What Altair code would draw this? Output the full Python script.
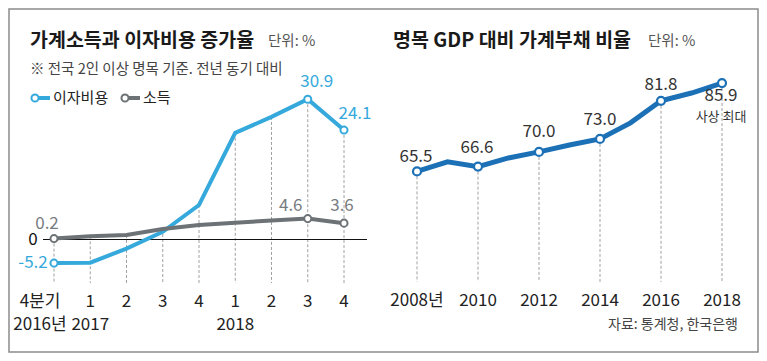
import altair as alt
import pandas as pd

# ---------------- data ----------------
quarters = ["4분기", "1", "2", "3", "4", "1", "2", "3", "4"]
year_row = ["2016년", "2017", "", "", "", "2018", "", "", ""]
interest = [-5.2, -5.1, -2.0, 1.7, 7.6, 23.5, 27.0, 30.9, 24.1]
income = [0.2, 0.7, 1.0, 2.3, 3.2, 3.7, 4.2, 4.6, 3.6]
marked_q = [True, False, False, False, False, False, False, True, True]

years = list(range(2008, 2019))
debt_ratio = [65.5, 67.7, 66.6, 68.6, 70.0, 71.6, 73.0, 76.7, 81.8, 83.6, 85.9]
year_ticks = ["2008년", "2010", "2012", "2014", "2016", "2018"]

FONT = "Noto Sans CJK KR"
BLUE_L = "#36a9dc"
GRAY_L = "#6c7275"
BLUE_R = "#1c70b6"
DASH = "#a0a0a0"

left = pd.DataFrame({
    "i": list(range(len(quarters))),
    "q": quarters,
    "yr": year_row,
    "interest": interest,
    "income": income,
    "marked": marked_q,
})
right = pd.DataFrame({
    "year": years,
    "v": debt_ratio,
    "even": [y % 2 == 0 for y in years],
})
ticks = pd.DataFrame({"year": [int(t[:4]) for t in year_ticks], "t": year_ticks})
dummy = pd.DataFrame({"a": [0]})

LX = alt.Scale(domain=[0, 8], range=[46, 336], nice=False, zero=False)
LY = alt.Scale(domain=[-10, 35], range=[276.9, 72.6], nice=False, zero=False)
RX = alt.Scale(domain=[2008, 2018], range=[409, 714], nice=False, zero=False)
RY = alt.Scale(domain=[40, 90], range=[273.8, 57.3], nice=False, zero=False)

lx = alt.X("i:Q", scale=LX, axis=None)
rx = alt.X("year:Q", scale=RX, axis=None)

layers = []

# border
layers.append(alt.Chart(dummy).mark_rect(fill=None, stroke="#8c8c8c", strokeWidth=1.5).encode(
    x=alt.value(1), x2=alt.value(750), y=alt.value(1), y2=alt.value(344)))

# ---------- left panel ----------
base_l = alt.Chart(left)
layers.append(base_l.transform_calculate(top="max(datum.interest, datum.income)", bot="-9.6").mark_rule(
    color=DASH, strokeDash=[3, 2], strokeWidth=1).encode(
    x=lx, y=alt.Y("top:Q", scale=LY, axis=None), y2="bot:Q"))
layers.append(alt.Chart(dummy).mark_rule(color="#111", strokeWidth=1.2).encode(
    x=alt.value(35), x2=alt.value(359), y=alt.Y("a:Q", scale=LY, axis=None)))
layers.append(base_l.mark_line(color=BLUE_L, strokeWidth=4).encode(
    x=lx, y=alt.Y("interest:Q", scale=LY, axis=None)))
layers.append(base_l.mark_line(color=GRAY_L, strokeWidth=4).encode(
    x=lx, y=alt.Y("income:Q", scale=LY, axis=None)))
layers.append(base_l.transform_filter("datum.marked").mark_point(
    filled=True, fill="white", stroke=BLUE_L, strokeWidth=2, size=50, opacity=1).encode(
    x=lx, y=alt.Y("interest:Q", scale=LY, axis=None)))
layers.append(base_l.transform_filter("datum.marked").mark_point(
    filled=True, fill="white", stroke=GRAY_L, strokeWidth=2, size=50, opacity=1).encode(
    x=lx, y=alt.Y("income:Q", scale=LY, axis=None)))

def lab_left(idx, series, dx, dy, color):
    vals = interest if series == "interest" else income
    d = pd.DataFrame({"i": [idx], "v": [vals[idx]], "t": [f"{vals[idx]:.1f}"]})
    return alt.Chart(d).mark_text(font=FONT, fontSize=17, color=color, dx=dx, dy=dy,
                                  align="center", baseline="middle").encode(
        x=lx, y=alt.Y("v:Q", scale=LY, axis=None), text="t:N")

layers += [
    lab_left(0, "interest", -21, 0, BLUE_L),
    lab_left(7, "interest", 9, -17, BLUE_L),
    lab_left(8, "interest", 11, -16, BLUE_L),
    lab_left(0, "income", -7, -15, "#777c80"),
    lab_left(7, "income", -17, -13, "#777c80"),
    lab_left(8, "income", -2, -17, "#777c80"),
]
# zero label
layers.append(alt.Chart(dummy).mark_text(font=FONT, fontSize=17, color="#111", align="center",
                                          baseline="middle").encode(
    x=alt.value(25), y=alt.Y("a:Q", scale=LY, axis=None), text=alt.value("0")))

# quarter labels
layers.append(base_l.transform_filter("datum.i > 0").mark_text(
    font=FONT, fontSize=17, color="#222", baseline="middle").encode(
    x=lx, y=alt.value(293.5), text="q:N"))
layers.append(base_l.transform_filter("datum.i == 0").mark_text(
    font=FONT, fontSize=17, color="#222", baseline="middle", dx=-14).encode(
    x=lx, y=alt.value(293.5), text="q:N"))
layers.append(base_l.transform_filter("datum.i == 0").mark_text(
    font=FONT, fontSize=17, color="#222", baseline="middle", dx=-14).encode(
    x=lx, y=alt.value(316.5), text="yr:N"))
layers.append(base_l.transform_filter("datum.i > 0 && datum.yr != ''").mark_text(
    font=FONT, fontSize=17, color="#222", baseline="middle").encode(
    x=lx, y=alt.value(316.5), text="yr:N"))

# titles left
def txt(s, x, y, size, color="#222", weight="normal", align="left"):
    return alt.Chart(dummy).mark_text(font=FONT, fontSize=size, color=color, fontWeight=weight,
                                      align=align, baseline="middle").encode(
        x=alt.value(x), y=alt.value(y), text=alt.value(s))

layers += [
    txt("가계소득과 이자비용 증가율", 22, 33, 19.5, "#1a1a1a", "bold"),
    txt("단위: %", 260, 34, 14.5, "#555"),
    txt("※ 전국 2인 이상 명목 기준. 전년 동기 대비", 22, 62, 14.5, "#444"),
]
# legend
layers.append(alt.Chart(dummy).mark_rule(color=BLUE_L, strokeWidth=4).encode(
    x=alt.value(27), x2=alt.value(42), y=alt.value(90)))
layers.append(alt.Chart(dummy).mark_point(filled=True, fill="white", stroke=BLUE_L, strokeWidth=2,
                                          size=50, opacity=1).encode(x=alt.value(27), y=alt.value(90)))
layers.append(txt("이자비용", 45, 90, 15, "#222"))
layers.append(alt.Chart(dummy).mark_rule(color=GRAY_L, strokeWidth=4).encode(
    x=alt.value(117), x2=alt.value(132), y=alt.value(90)))
layers.append(alt.Chart(dummy).mark_point(filled=True, fill="white", stroke=GRAY_L, strokeWidth=2,
                                          size=50, opacity=1).encode(x=alt.value(117), y=alt.value(90)))
layers.append(txt("소득", 135, 90, 15, "#222"))

# ---------- right panel ----------
base_r = alt.Chart(right)
layers.append(base_r.transform_filter("datum.even").transform_calculate(bot="40").mark_rule(
    color=DASH, strokeDash=[3, 2], strokeWidth=1).encode(
    x=rx, y=alt.Y("v:Q", scale=RY, axis=None), y2="bot:Q"))
layers.append(base_r.mark_line(color=BLUE_R, strokeWidth=5).encode(
    x=rx, y=alt.Y("v:Q", scale=RY, axis=None)))
layers.append(base_r.transform_filter("datum.even").mark_point(
    filled=True, fill="white", stroke=BLUE_R, strokeWidth=2.2, size=64, opacity=1).encode(
    x=rx, y=alt.Y("v:Q", scale=RY, axis=None)))

def lab_right(year, dx, dy, text=None):
    k = years.index(year)
    d = pd.DataFrame({"year": [year], "v": [debt_ratio[k]],
                      "t": [text if text is not None else f"{debt_ratio[k]:.1f}"]})
    return alt.Chart(d).mark_text(font=FONT, fontSize=17, color="#333", dx=dx, dy=dy,
                                  align="center", baseline="middle").encode(
        x=rx, y=alt.Y("v:Q", scale=RY, axis=None), text="t:N")

layers += [
    lab_right(2008, -1, -14),
    lab_right(2010, -1, -19),
    lab_right(2012, 0, -20),
    lab_right(2014, 0, -19),
    lab_right(2016, 0, -16),
    lab_right(2018, -1, 13),
]
d_note = pd.DataFrame({"year": [2018], "v": [debt_ratio[-1]], "t": ["사상 최대"]})
layers.append(alt.Chart(d_note).mark_text(font=FONT, fontSize=13, color="#333", dx=-1, dy=34,
                                          align="center", baseline="middle").encode(
    x=rx, y=alt.Y("v:Q", scale=RY, axis=None), text="t:N"))

layers.append(alt.Chart(ticks).mark_text(font=FONT, fontSize=17, color="#222", baseline="middle").encode(
    x=rx, y=alt.value(293), text="t:N"))

layers += [
    txt("명목 GDP 대비 가계부채 비율", 385, 33, 19.5, "#1a1a1a", "bold"),
    txt("단위: %", 640, 34, 14.5, "#555"),
    txt("자료: 통계청, 한국은행", 730, 317, 14, "#444", align="right"),
]

chart = alt.layer(*layers).resolve_scale(x="independent", y="independent").properties(
    width=751, height=345, autosize=alt.AutoSizeParams(type="none"), padding=0,
    background="white"
).configure_view(stroke=None)

chart.save("out.html", embed_options={"renderer": "svg", "actions": False})
